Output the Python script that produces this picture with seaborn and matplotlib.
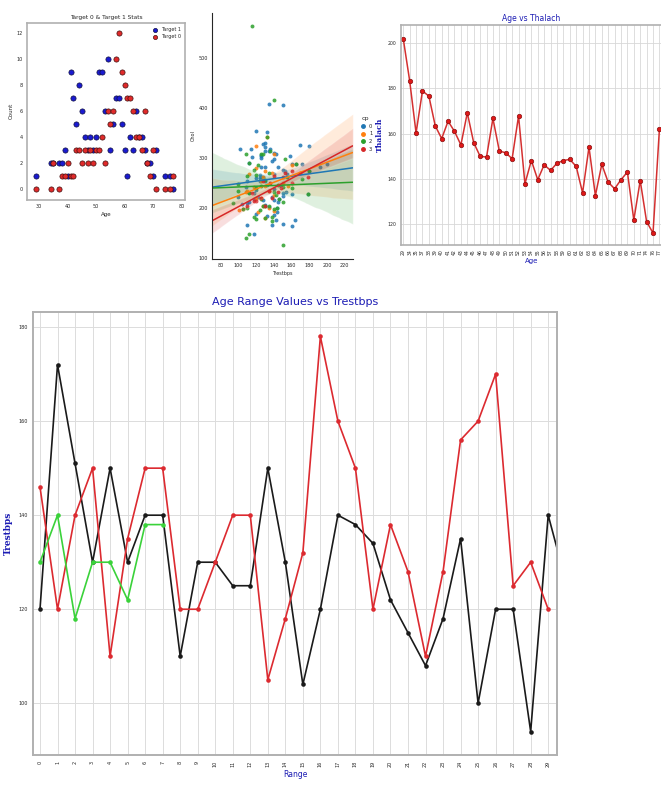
import numpy as np
import pandas as pd
import matplotlib
matplotlib.use("Agg")
import matplotlib.pyplot as plt
import seaborn as sns
from matplotlib.lines import Line2D

# ---------------- data ----------------
# Panel 1: counts of patients per age, by target
count_ages = [29, 34, 35, 37, 38, 39, 40, 41, 42, 43, 44, 45, 46, 47, 48, 49, 50, 51, 52, 53,
              54, 55, 56, 57, 58, 59, 60, 61, 62, 63, 64, 65, 66, 67, 68, 69, 70, 71, 74, 76, 77]
target1_counts = [1, 2, 2, 2, 2, 3, 1, 9, 7, 5, 8, 6, 4, 3, 4, 3, 4, 9, 9, 6,
                  10, 3, 5, 7, 7, 5, 3, 1, 4, 3, 6, 4, 4, 3, 2, 2, 1, 3, 1, 1, 0]
target0_counts = [0, 0, 2, 0, 1, 1, 2, 1, 1, 3, 3, 2, 3, 2, 3, 2, 3, 3, 4, 2,
                  6, 5, 6, 10, 12, 9, 8, 7, 7, 6, 4, 4, 3, 6, 2, 1, 3, 0, 0, 0, 1]

# Panel 2: trestbps vs chol by chest-pain type (cp)
cp0_trestbps = [100, 104, 108, 110, 112, 115, 117, 120, 120, 122, 124, 125, 126, 128, 128, 130, 130, 130,
                132, 132, 134, 135, 138, 140, 140, 140, 140, 142, 144, 145, 145, 148, 150, 150, 150, 152,
                155, 158, 160, 160, 164, 170, 172, 180, 180, 192, 200, 118, 124, 126, 130, 112, 110, 120,
                124, 125, 136, 138, 140, 142, 146, 150, 110, 114, 118, 128, 128, 130, 138, 140, 144, 150,
                154, 160, 165, 178, 132, 125, 134, 120, 130, 112, 102]
cp0_chol = [222, 208, 243, 254, 212, 303, 230, 188, 260, 222, 255, 300, 282, 216, 259, 330, 254, 206,
            184, 353, 409, 203, 294, 187, 268, 311, 298, 309, 193, 282, 212, 244, 407, 276, 225, 274,
            269, 305, 164, 289, 176, 326, 288, 325, 274, 283, 288, 149, 261, 306, 322, 290, 167, 354,
            266, 258, 319, 223, 217, 177, 218, 168, 211, 318, 219, 329, 263, 283, 166, 239, 200, 231,
            232, 228, 289, 228, 247, 304, 315, 237, 315, 230, 318]
cp1_trestbps = [105, 108, 110, 120, 120, 122, 125, 128, 130, 130, 132, 135, 140, 140, 150, 120, 125, 112,
                130, 156, 160, 101, 118, 128, 134, 138, 140]
cp1_chol = [198, 233, 235, 281, 220, 192, 220, 205, 245, 275, 342, 234, 195, 308, 250, 325, 254, 268,
            180, 245, 286, 197, 242, 263, 201, 271, 226]
cp2_trestbps = [94, 100, 105, 108, 110, 112, 115, 118, 120, 122, 124, 125, 128, 130, 130, 132, 134, 135,
                138, 140, 140, 142, 144, 145, 146, 150, 150, 152, 155, 160, 165, 172, 180, 178, 120, 128,
                126, 112, 136, 130, 140, 150, 110, 120, 118, 138, 125, 100, 108, 112]
cp2_chol = [210, 248, 198, 309, 265, 230, 564, 182, 240, 286, 197, 309, 205, 256, 180, 342, 271, 204,
            175, 417, 233, 226, 200, 247, 218, 243, 126, 298, 262, 240, 289, 258, 274, 228, 178, 308,
            218, 290, 315, 204, 199, 212, 201, 267, 277, 183, 245, 234, 141, 149]
cp3_trestbps = [110, 115, 118, 120, 125, 128, 130, 134, 136, 138, 140, 145, 148, 150, 152, 160, 160, 170, 178]
cp3_chol = [205, 230, 215, 215, 220, 255, 205, 234, 250, 220, 265, 233, 240, 262, 270, 250, 275, 270, 262]

# Panel 3: mean thalach per age
thalach_ages = count_ages
thalach_means = [202, 183.4, 160.3, 178.9, 176.6, 163.4, 157.8, 165.5, 161, 155, 169.2, 156, 150, 149.6,
                 166.7, 152.3, 151.5, 148.9, 167.8, 137.8, 148.1, 139.6, 146.2, 143.7, 146.9, 148.1,
                 148.6, 145.5, 133.8, 154, 132.6, 146.4, 138.5, 135.6, 139.6, 143, 121.8, 139.2, 121,
                 116, 162]

# Panel 4: trestbps values per age range index
black_vals = [120, 172, 151, 130, 150, 130, 140, 140, 110, 130, 130, 125, 125, 150, 130, 104, 120, 140,
              138, 134, 122, 115, 108, 118, 135, 100, 120, 120, 94, 140, 126]
red_vals = [146, 120, 140, 150, 110, 135, 150, 150, 120, 120, 130, 140, 140, 105, 118, 132, 178, 160,
            150, 120, 138, 128, 110, 128, 156, 160, 170, 125, 130, 120]
green_vals = [130, 140, 118, 130, 130, 122, 138, 138]
range_ticks = list(range(30))

# ---------------- figure ----------------
sns.set_style("white")
plt.rcParams['font.family'] = ['DejaVu Sans']
BLUE_TXT = '#1c1cb4'
SPINE = '#b0b0b0'
fig = plt.figure(figsize=(6.61, 7.85), dpi=100)


def frame(ax, color=SPINE, lw=1.2):
    for s in ax.spines.values():
        s.set_visible(True)
        s.set_color(color)
        s.set_linewidth(lw)


# ---- Panel 1 ----
ax1 = fig.add_axes([0.0404, 0.7452, 0.2395, 0.2259])
sns.scatterplot(x=count_ages, y=target1_counts, ax=ax1, color='#1a1ad0', s=14,
                edgecolor='#101040', linewidth=0.5, label='Target 1', zorder=3)
sns.scatterplot(x=count_ages, y=target0_counts, ax=ax1, color='#e02a2a', s=14,
                edgecolor='#401010', linewidth=0.5, label='Target 0', zorder=3)
ax1.set_xlim(25.6, 81.2)
ax1.set_ylim(-0.82, 12.8)
ax1.set_xticks(range(30, 81, 10))
ax1.set_yticks(range(0, 13, 2))
ax1.tick_params(labelsize=3.5, length=2, pad=1)
ax1.set_title('Target 0 & Target 1 Stats', fontsize=4.2, pad=3)
ax1.set_xlabel('Age', fontsize=4, labelpad=2)
ax1.set_ylabel('Count', fontsize=4, labelpad=2)
frame(ax1)
ax1.legend(loc='upper right', fontsize=3.5, frameon=False, markerscale=0.8, handletextpad=0.2)

# ---- Panel 2 ----
ax2 = fig.add_axes([0.3212, 0.6701, 0.2124, 0.3134])
ax2.set_xlim(70.5, 229)
ax2.set_ylim(99, 590)
cp_colors = ['#1f77b4', '#ff7f0e', '#2ca02c', '#d62728']
cp_data = [(cp0_trestbps, cp0_chol), (cp1_trestbps, cp1_chol),
           (cp2_trestbps, cp2_chol), (cp3_trestbps, cp3_chol)]
for (xs, ys), c in zip(cp_data, cp_colors):
    sns.regplot(x=np.array(xs), y=np.array(ys), ax=ax2, color=c, truncate=False, seed=0,
                scatter_kws={'s': 8, 'alpha': 0.85, 'linewidths': 0},
                line_kws={'lw': 1.1})
ax2.set_xlim(70.5, 229)
ax2.set_ylim(99, 590)
ax2.set_xticks(range(80, 221, 20))
ax2.set_yticks(range(100, 501, 100))
ax2.tick_params(labelsize=3.5, length=2, pad=1)
ax2.set_xlabel('Trestbps', fontsize=3.5, labelpad=2)
ax2.set_ylabel('Chol', fontsize=3.5, labelpad=2)
sns.despine(ax=ax2)
handles = [Line2D([], [], marker='o', ls='', color=c, markersize=2.5) for c in cp_colors]
ax2.legend(handles, ['0', '1', '2', '3'], title='cp', loc='upper left',
           bbox_to_anchor=(1.0, 0.6), frameon=False, fontsize=3.8, title_fontsize=4.5,
           handletextpad=0.2, labelspacing=0.5)

# ---- Panel 3 ----
ax3 = fig.add_axes([0.6062, 0.6879, 0.3953, 0.2803])
pos3 = np.arange(len(thalach_ages))
sns.lineplot(x=pos3, y=thalach_means, ax=ax3, color='#d43030', lw=1.1, marker='o',
             markersize=3.2, markerfacecolor='#e01818', markeredgecolor='#8a1010',
             markeredgewidth=0.5)
ax3.set_xlim(-0.4, 40.4)
ax3.set_ylim(110.7, 208.1)
ax3.set_xticks(pos3)
ax3.set_xticklabels([str(a) for a in thalach_ages], rotation=90)
ax3.set_yticks(range(120, 201, 20))
ax3.tick_params(labelsize=3.3, length=2, pad=1)
ax3.grid(True, color='#d8d8d8', lw=0.6)
ax3.set_axisbelow(True)
ax3.set_title('Age vs Thalach', fontsize=5.5, color=BLUE_TXT, pad=3)
ax3.set_xlabel('Age', fontsize=5, color=BLUE_TXT, labelpad=2)
ax3.set_ylabel('Thalach', fontsize=5.5, color=BLUE_TXT, fontweight='bold',
               family='DejaVu Serif', labelpad=3)
frame(ax3)

# ---- Panel 4 ----
ax4 = fig.add_axes([0.0499, 0.0382, 0.7927, 0.5643])
kw = dict(lw=1.2, marker='o', markersize=3.3, markeredgewidth=0)
sns.lineplot(x=np.arange(len(black_vals)), y=black_vals, ax=ax4, color='#1a1a1a', **kw)
sns.lineplot(x=np.arange(len(red_vals)), y=red_vals, ax=ax4, color='#dc2a30', **kw)
sns.lineplot(x=np.arange(len(green_vals)), y=green_vals, ax=ax4, color='#3ad23a', **kw)
ax4.set_xlim(-0.4, 29.5)
ax4.set_ylim(89, 183.2)
ax4.set_xticks(range_ticks)
ax4.set_xticklabels([str(v) for v in range_ticks], rotation=90)
ax4.set_yticks(range(100, 181, 20))
ax4.tick_params(labelsize=3.5, length=2.5, pad=1.5)
ax4.grid(True, color='#dcdcdc', lw=0.7)
ax4.set_axisbelow(True)
ax4.set_title('Age Range Values vs Trestbps', fontsize=8, color=BLUE_TXT, pad=5)
ax4.set_xlabel('Range', fontsize=5.5, color=BLUE_TXT, labelpad=2)
ax4.set_ylabel('Trestbps', fontsize=6.5, color=BLUE_TXT, fontweight='bold',
               family='DejaVu Serif', labelpad=4)
frame(ax4, lw=1.4)

fig.savefig('out.png', dpi=100)
